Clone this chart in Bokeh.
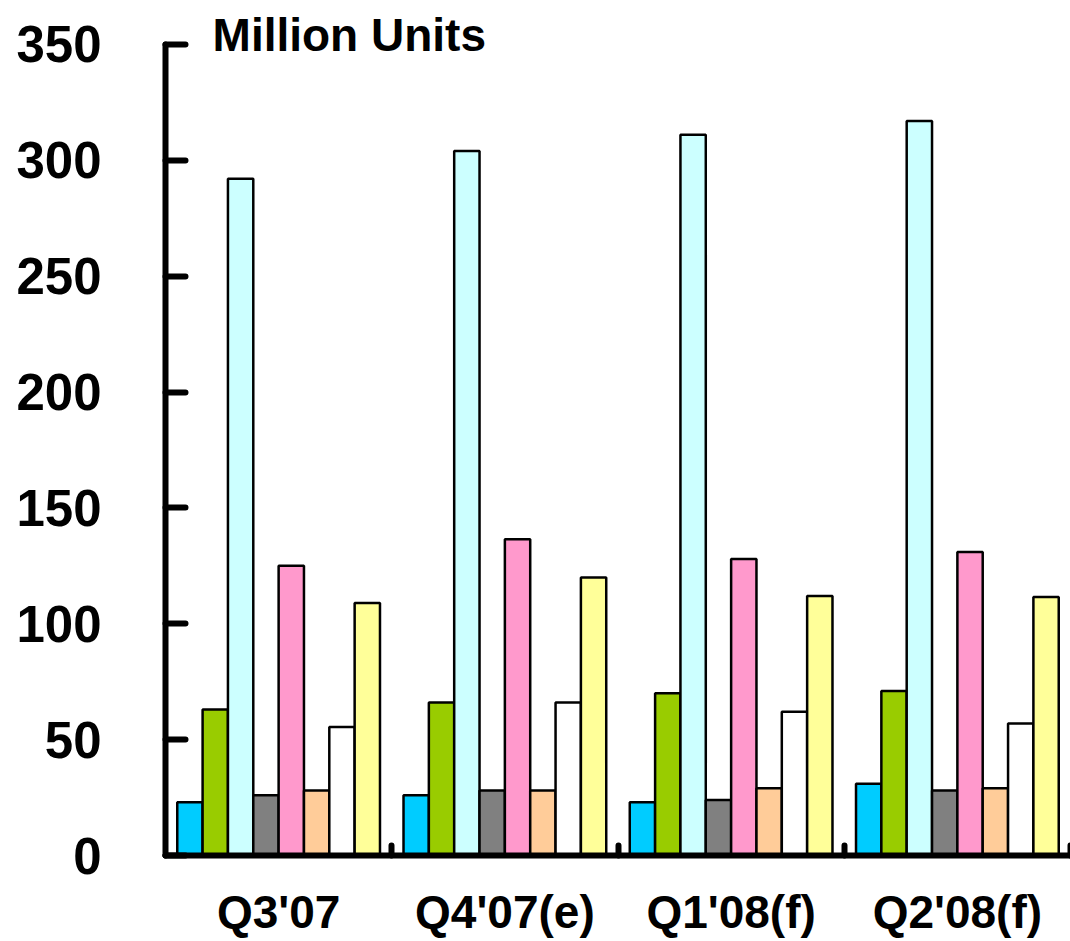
from bokeh.plotting import figure
from bokeh.models import Range1d, FixedTicker, Label, ColumnDataSource
from bokeh.embed import file_html
from bokeh.resources import INLINE

quarters = ["Q3'07", "Q4'07(e)", "Q1'08(f)", "Q2'08(f)"]
series_names = ["S1", "S2", "S3", "S4", "S5", "S6", "S7", "S8"]
colors = ["#00CCFF", "#99CC00", "#CCFFFF", "#808080", "#FF99CC", "#FFCC99", "#FFFFFF", "#FFFF99"]
s1 = [23, 26, 23, 31]
s2 = [63, 66, 70, 71]
s3 = [292, 304, 311, 317]
s4 = [26, 28, 24, 28]
s5 = [125, 136.5, 128, 131]
s6 = [28, 28, 29, 29]
s7 = [55.5, 66, 62, 57]
s8 = [109, 120, 112, 111.5]
series = [s1, s2, s3, s4, s5, s6, s7, s8]
y_ticks = [0, 50, 100, 150, 200, 250, 300, 350]
y_unit_label = "Million Units"

FONT = "Liberation Sans"

p = figure(width=1070, height=941, output_backend="svg", toolbar_location=None,
           x_range=Range1d(0, len(quarters)), y_range=Range1d(0, 368.1))
p.min_border_left = 165
p.min_border_right = 0
p.min_border_top = 2
p.min_border_bottom = 86
p.outline_line_color = None
p.grid.visible = False
p.background_fill_color = "white"
p.border_fill_color = "white"

bw = 0.112
n = len(series)
for k, vals in enumerate(series):
    xs = [i + 0.5 + (k - (n - 1) / 2) * bw for i in range(len(quarters))]
    src = ColumnDataSource(dict(x=xs, top=vals))
    p.vbar(x="x", top="top", bottom=0, width=bw, source=src,
           fill_color=colors[k], line_color="black", line_width=2.5)

# x axis
xa = p.xaxis[0]
xa.ticker = FixedTicker(ticks=[i + 0.5 for i in range(len(quarters))],
                        minor_ticks=list(range(1, len(quarters) + 1)))
xa.major_label_overrides = {i + 0.5: q for i, q in enumerate(quarters)}
xa.major_tick_in = 0
xa.major_tick_out = 0
xa.minor_tick_in = 10
xa.minor_tick_out = 0
xa.minor_tick_line_width = 6
xa.minor_tick_line_cap = "round"
xa.axis_line_width = 6
xa.axis_line_cap = "round"
xa.major_label_text_font = FONT
xa.major_label_text_font_style = "bold"
xa.major_label_text_font_size = "46px"
xa.major_label_text_color = "black"
xa.major_label_standoff = 30

ya = p.yaxis[0]
ya.ticker = FixedTicker(ticks=y_ticks, minor_ticks=[])
ya.bounds = (0, 350)
ya.major_tick_in = 20
ya.major_tick_out = 0
ya.major_tick_line_width = 6
ya.major_tick_line_cap = "round"
ya.axis_line_width = 6
ya.axis_line_cap = "round"
ya.major_label_text_font = FONT
ya.major_label_text_font_style = "bold"
ya.major_label_text_font_size = "51px"
ya.major_label_text_color = "black"
ya.major_label_standoff = 64

title = Label(x=0.208, y=354, text=y_unit_label, text_font=FONT,
              text_font_style="bold", text_font_size="46px",
              text_baseline="alphabetic", text_align="left", text_color="black")
p.add_layout(title)

open("out.html", "w").write(file_html(p, INLINE))
